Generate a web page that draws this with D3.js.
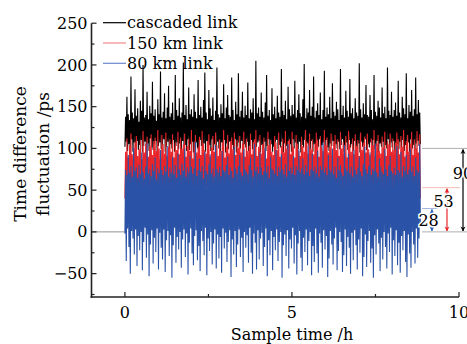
<!DOCTYPE html>
<html>
<head>
<meta charset="utf-8">
<script src="https://cdn.jsdelivr.net/npm/d3@7/dist/d3.min.js"></script>
<style>
  body { margin: 0; background: #fff; }
  svg { display: block; font-family: "DejaVu Serif", "Liberation Serif", serif; }
</style>
</head>
<body>
<div id="chart"></div>
<script>
// sample interval of the recorded series (hours)
const sampleStep = 0.0201;

// cascaded link (ps)
const cascaded = [
  102,138, 108,162, 97,141, 105,134, 99,186, 111,143, 96,136, 107,171, 101,139, 109,148,
  98,132, 104,157, 110,145, 95,200, 103,137, 108,140, 100,168, 106,135, 97,151, 112,142,
  101,180, 98,139, 105,147, 109,133, 96,159, 103,141, 107,192, 99,137, 104,144, 111,166,
  95,136, 102,149, 108,175, 97,138, 105,142, 100,155, 110,134, 96,188, 103,146, 107,139,
  99,160, 106,137, 94,143, 109,203, 101,140, 104,152, 97,135, 111,173, 98,141, 105,147,
  108,138, 95,165, 102,144, 107,136, 100,182, 96,140, 110,150, 103,137, 99,158, 106,191,
  96,143, 109,135, 101,170, 104,148, 97,139, 111,161, 98,134, 105,145, 102,197, 108,141,
  100,137, 96,153, 107,142, 103,177, 110,136, 95,149, 106,164, 99,140, 108,138, 101,185,
  104,146, 98,134, 111,156, 95,141, 102,190, 107,138, 100,145, 109,168, 96,137, 105,151,
  101,140, 108,179, 97,136, 103,147, 110,143, 99,160, 106,135, 94,205, 102,142, 107,149,
  109,138, 95,167, 104,144, 100,137, 108,155, 97,188, 103,139, 111,146, 98,134, 105,172,
  96,141, 102,150, 107,136, 110,163, 99,143, 104,138, 101,195, 108,145, 95,140, 106,157,
  103,135, 98,174, 109,147, 105,139, 96,152, 111,141, 100,181, 107,137, 102,146, 99,165,
  108,142, 95,138, 104,159, 101,201, 110,136, 97,148, 106,143, 103,170, 99,139, 109,150,
  96,186, 105,137, 100,145, 108,154, 102,140, 111,167, 97,135, 104,146, 107,193, 98,138,
  110,149, 101,141, 97,162, 106,136, 103,178, 109,144, 95,139, 105,156, 100,147, 108,134,
  99,195, 104,140, 111,151, 96,137, 102,169, 107,145, 98,138, 110,183, 101,142, 105,148,
  97,136, 109,160, 103,143, 100,139, 106,202, 95,147, 108,137, 102,154, 104,141, 111,176,
  98,140, 105,138, 101,164, 107,146, 95,135, 110,188, 99,144, 103,139, 109,157, 96,149,
  106,137, 102,173, 108,142, 97,150, 104,136, 100,197, 111,145, 96,140, 107,168, 101,138,
  109,146, 96,155, 103,139, 105,181, 99,143, 108,137, 101,162, 110,148, 97,141, 104,190,
  102,136, 107,152, 95,144, 111,170, 100,139, 104,147, 98,185, 106,141, 109,158, 103,143,
  105
];

// 150 km link (ps)
const link150 = [
  40,96, 28,112, 51,89, 35,104, 46,118, 23,93, 38,101, 54,108, 31,115, 44,91,
  26,99, 49,110, 33,87, 42,121, 21,95, 53,106, 37,114, 29,90, 47,103, 34,117,
  50,92, 24,109, 41,113, 36,97, 55,122, 27,100, 45,88, 32,116, 48,105, 22,94,
  39,119, 52,91, 30,102, 43,111, 25,96, 50,117, 35,89, 46,107, 20,98, 41,120,
  33,93, 48,113, 27,100, 54,105, 38,118, 23,90, 44,103, 31,112, 51,97, 36,122,
  45,88, 22,108, 40,116, 34,95, 53,102, 29,114, 47,92, 25,121, 42,106, 37,98,
  28,94, 55,109, 32,117, 49,90, 24,101, 43,115, 36,96, 52,119, 30,104, 46,91,
  41,111, 26,97, 50,107, 35,122, 21,89, 48,102, 38,116, 44,94, 33,109, 54,113,
  23,99, 42,119, 37,92, 29,110, 51,101, 34,115, 46,95, 27,106, 53,120, 39,90,
  47,112, 31,97, 24,103, 45,118, 36,93, 52,108, 28,111, 43,122, 35,91, 49,102,
  30,116, 53,94, 40,105, 22,113, 48,99, 33,88, 55,120, 26,104, 44,110, 38,96,
  51,92, 25,115, 46,107, 37,98, 29,119, 42,90, 34,103, 50,112, 21,95, 45,121,
  36,100, 48,109, 23,111, 54,93, 31,120, 40,102, 47,89, 27,116, 43,106, 32,97,
  49,91, 35,114, 52,103, 24,96, 45,122, 30,108, 38,94, 53,118, 28,99, 41,111,
  22,93, 46,106, 34,119, 50,110, 39,90, 26,115, 55,101, 32,97, 44,122, 37,104,
  48,113, 29,95, 41,102, 35,118, 53,92, 23,109, 47,116, 38,98, 31,111, 50,91,
  27,120, 43,100, 36,108, 52,94, 25,115, 45,89, 33,121, 49,105, 40,96, 28,112,
  54,93, 37,117, 30,103, 46,110, 21,91, 42,119, 35,98, 51,107, 26,114, 44,95,
  39,118, 24,99, 48,92, 33,112, 55,104, 29,122, 41,90, 36,106, 50,116, 22,97,
  45,94, 38,114, 27,101, 53,120, 31,91, 47,109, 25,105, 42,118, 34,96, 49,112,
  30,98, 52,107, 40,119, 23,111, 46,93, 35,115, 54,102, 28,122, 43,90, 37,109,
  51,116, 26,96, 44,106, 32,120, 48,92, 39,111, 21,100, 55,121, 33,95, 46,117,
  40
];

// 80 km link (ps)
const link80 = [
  -2,74, -35,68, 4,92, -18,71, -50,79, 1,66, -8,101, -27,73, 3,77, -41,65,
  -5,80, -22,69, 0,95, -46,72, -12,64, 5,78, -31,106, -3,70, -53,75, -15,67,
  2,81, -38,73, -7,89, -24,63, 4,76, -45,70, -1,98, -19,74, -33,68, 3,79,
  -48,72, -10,103, 1,66, -29,77, -4,71, -55,90, -16,69, 5,80, -37,65, -6,94,
  -21,75, 0,68, -43,82, -9,73, 3,100, -30,66, -2,77, -51,71, -13,91, 4,78,
  -26,70, -40,76, -5,108, 2,67, -34,74, -17,88, -47,72, 1,79, -11,64, -28,96,
  5,73, -52,69, -8,81, -23,93, 0,70, -39,76, -14,66, 3,104, -44,75, -3,71,
  -32,78, -6,67, -49,97, 4,74, -20,72, -1,80, -36,90, -12,68, 2,77, -54,73,
  -9,65, -27,102, 1,76, -42,70, -15,79, 3,92, -30,71, -7,67, -48,99, 0,75,
  -19,72, -4,69, -37,80, 5,89, -25,74, -50,66, -2,106, -13,73, -45,78, 2,70,
  -33,95, -8,77, -1,68, -41,73, -18,101, 4,71, -53,79, -10,65, -28,90, 1,76,
  -46,74, -6,70, -22,98, 3,67, -35,78, -12,72, 0,93, -55,75, -16,69, -3,81,
  -29,66, 2,105, -44,73, -9,77, -20,70, 5,91, -38,68, -4,79, -51,74, -14,99,
  1,71, -31,76, -47,88, -7,69, -24,80, 3,72, -40,103, -11,67, 0,75, -52,94,
  -17,73, -36,78, 4,70, -26,97, -49,66, -2,79, -13,74, -43,107, 2,71, -21,77,
  -5,68, -54,92, -32,75, 1,72, -15,100, -39,69, -8,78, 5,65, -46,89, -23,74,
  0,80, -12,71, -48,67, -28,104, 3,76, -41,73, -6,94, -19,70, -50,78, -1,66,
  -34,98, 2,74, -16,69, -45,77, -9,90, -25,72, 4,67, -53,81, -30,102, -3,75,
  -42,70, -11,79, 1,95, -37,68, -20,76, -55,73, -4,106, -27,71, 3,66, -14,88,
  -47,78, -7,72, -33,69, 0,99, -18,75, -44,67, -2,80, -24,91, 5,73, -51,70,
  -10,77, -29,68, 2,103, -40,74, -13,71, -49,96, -5,66, -22,79, 1,73, -36,92,
  -54,69, -3,75, -26,100, -43,72, 0,78, -15,67, -38,89, 4,74, -31,71, -8,105,
  10
];

const seriesNames = ['cascaded link', '150 km link', '80 km link'];
const seriesColors = ['#000000', '#e8252a', '#2a52a6'];
const legendColors = ['#000000', '#f08a8a', '#6a88cc'];

const xTicks = [0, 5, 10];
const xMinorTicks = [2.5, 7.5];
const yTicks = [-50, 0, 50, 100, 150, 200, 250];
const yMinorTicks = [-75, -25, 25, 75, 125, 175, 225];

// peak-to-peak annotations: value, arrow position (h), label
const spans = [
  { value: 100, at: 10.12, label: '90', color: '#000000', guide: '#999999' },
  { value: 53, at: 9.64, label: '53', color: '#e8252a', guide: '#f3a9a0' },
  { value: 28, at: 9.19, label: '28', color: '#2a62b6', guide: '#8aa4d8' }
];

const width = 467, height = 344;

const svg = d3.select('#chart').append('svg')
  .attr('width', width)
  .attr('height', height);

const x = d3.scaleLinear().domain([-1, 10]).range([91.5, 459]);
const y = d3.scaleLinear().domain([-78, 250]).range([297, 23.2]);

const defs = svg.append('defs');
const markerFor = (id, color) => {
  defs.append('marker')
    .attr('id', id)
    .attr('viewBox', '0 0 10 10')
    .attr('refX', 9).attr('refY', 5)
    .attr('markerWidth', 5).attr('markerHeight', 7)
    .attr('markerUnits', 'userSpaceOnUse')
    .attr('orient', 'auto-start-reverse')
    .append('path')
    .attr('d', 'M0,0 L10,5 L0,10 L3,5 Z')
    .attr('fill', color);
  return `url(#${id})`;
};

// series
const line = d3.line()
  .x((d, i) => x(i * sampleStep))
  .y(d => y(d));

[cascaded, link150, link80].forEach((values, k) => {
  svg.append('path')
    .datum(values)
    .attr('fill', 'none')
    .attr('stroke', seriesColors[k])
    .attr('stroke-width', 1.1)
    .attr('d', line);
});

// zero line before the record starts
svg.append('line')
  .attr('x1', x(-1)).attr('x2', x(0))
  .attr('y1', y(0)).attr('y2', y(0))
  .attr('stroke', '#777').attr('stroke-width', 0.8);

// annotation guides
const lastT = (cascaded.length - 1) * sampleStep;
svg.append('line')
  .attr('x1', x(lastT + 0.05)).attr('x2', width)
  .attr('y1', y(0)).attr('y2', y(0))
  .attr('stroke', '#999').attr('stroke-width', 0.8);

spans.forEach((s, i) => {
  svg.append('line')
    .attr('x1', x(lastT + 0.05))
    .attr('x2', i === 0 ? width : i === 1 ? x(s.at) + 13 : x(s.at) + 6)
    .attr('y1', y(s.value)).attr('y2', y(s.value))
    .attr('stroke', s.guide).attr('stroke-width', 0.8);
  const m = markerFor('arrow' + i, s.color);
  svg.append('line')
    .attr('x1', x(s.at)).attr('x2', x(s.at))
    .attr('y1', y(s.value) + 1).attr('y2', y(0) - 1)
    .attr('stroke', s.color).attr('stroke-width', 1.2)
    .attr('marker-start', m).attr('marker-end', m);
});

spans.forEach((s, i) => {
  const labelY = [70, 36, 14][i];
  const labelX = [s.at, s.at - 0.1, s.at - 0.1][i];
  svg.append('text')
    .attr('x', x(labelX)).attr('y', y(labelY))
    .attr('dy', '0.35em')
    .attr('text-anchor', 'middle')
    .attr('font-size', 16)
    .attr('fill', '#000')
    .attr('stroke', '#fff').attr('stroke-width', 3)
    .attr('paint-order', 'stroke')
    .text(s.label);
});

// axes
const axisColor = '#222';
const xAxis = svg.append('g').attr('transform', `translate(0,${y(-78)})`);
xAxis.append('line')
  .attr('x1', x(-1) - 1).attr('x2', x(10))
  .attr('stroke', axisColor).attr('stroke-width', 1.6);
xAxis.selectAll('.major').data(xTicks).join('line')
  .attr('x1', d => x(d)).attr('x2', d => x(d))
  .attr('y1', 0).attr('y2', -5)
  .attr('stroke', axisColor).attr('stroke-width', 1.2);
xAxis.selectAll('.minor').data(xMinorTicks).join('line')
  .attr('x1', d => x(d)).attr('x2', d => x(d))
  .attr('y1', 0).attr('y2', -3)
  .attr('stroke', axisColor).attr('stroke-width', 1.2);
xAxis.selectAll('text').data(xTicks).join('text')
  .attr('x', d => x(d)).attr('y', 21)
  .attr('text-anchor', 'middle')
  .attr('font-size', 16)
  .text(d => d);

const yAxis = svg.append('g').attr('transform', `translate(${x(-1)},0)`);
yAxis.append('line')
  .attr('y1', y(250)).attr('y2', y(-78) + 0.8)
  .attr('stroke', axisColor).attr('stroke-width', 1.6);
yAxis.selectAll('.major').data(yTicks).join('line')
  .attr('y1', d => y(d)).attr('y2', d => y(d))
  .attr('x1', 0).attr('x2', 5)
  .attr('stroke', axisColor).attr('stroke-width', 1.2);
yAxis.selectAll('.minor').data(yMinorTicks).join('line')
  .attr('y1', d => y(d)).attr('y2', d => y(d))
  .attr('x1', 0).attr('x2', 3)
  .attr('stroke', axisColor).attr('stroke-width', 1.2);
yAxis.selectAll('text').data(yTicks).join('text')
  .attr('x', -4).attr('y', d => y(d))
  .attr('dy', '0.35em')
  .attr('text-anchor', 'end')
  .attr('font-size', 16)
  .text(d => d < 0 ? '\u2212' + Math.abs(d) : d);

// axis titles
svg.append('text')
  .attr('x', x(5)).attr('y', 340)
  .attr('text-anchor', 'middle')
  .attr('font-size', 16)
  .text('Sample time /h');

const yTitle = svg.append('g')
  .attr('transform', `translate(0,${154}) rotate(-90)`);
yTitle.append('text')
  .attr('x', 0).attr('y', 26)
  .attr('text-anchor', 'middle')
  .attr('font-size', 17)
  .text('Time difference');
yTitle.append('text')
  .attr('x', 0).attr('y', 49)
  .attr('text-anchor', 'middle')
  .attr('font-size', 17)
  .text('fluctuation /ps');

// legend
const legend = svg.append('g').attr('transform', 'translate(103,22.7)');
seriesNames.forEach((name, i) => {
  const row = legend.append('g').attr('transform', `translate(0,${i * 20.3})`);
  row.append('line')
    .attr('x1', 0).attr('x2', 23)
    .attr('stroke', legendColors[i]).attr('stroke-width', 1.2);
  row.append('text')
    .attr('x', 24).attr('y', 5.5)
    .attr('font-size', 16)
    .text(name);
});
</script>
</body>
</html>
